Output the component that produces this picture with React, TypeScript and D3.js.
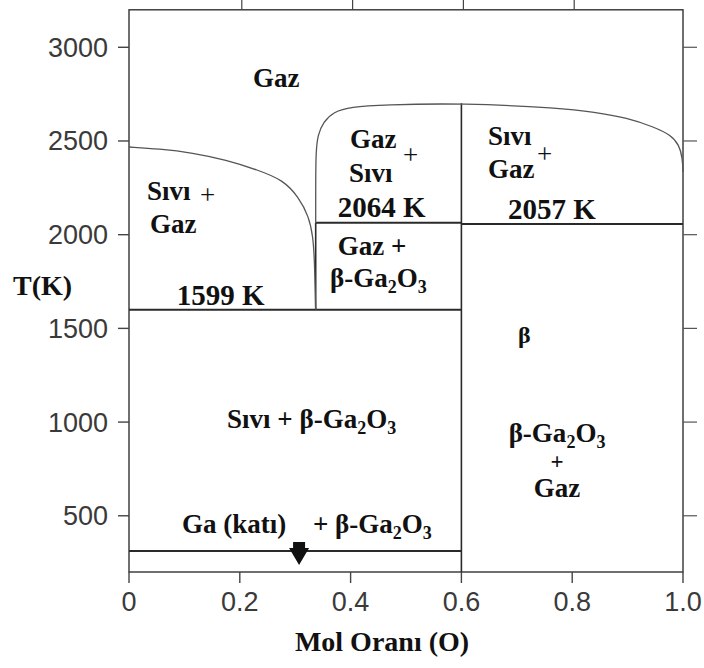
import React from "react";
import * as d3 from "d3";

// ---- data ----
const xTicks = [0, 0.2, 0.4, 0.6, 0.8, 1.0];
const xTickLabels = ["0", "0.2", "0.4", "0.6", "0.8", "1.0"];
const yTicks = [500, 1000, 1500, 2000, 2500, 3000];
const yTickLabels = ["500", "1000", "1500", "2000", "2500", "3000"];
const topTicks = [0.2, 0.4, 0.6, 0.8];

// liquidus/gas boundary on Ga-rich side [X, T]
const leftCurve: [number, number][] = [
  [0, 2468], [0.054, 2458], [0.115, 2437], [0.175, 2399], [0.233, 2345],
  [0.278, 2292], [0.306, 2202], [0.325, 2095], [0.332, 1989], [0.3345, 1882],
  [0.336, 1720], [0.337, 1599],
];
// dome boundary (gas / liquid+gas)
const domeCurve: [number, number][] = [
  [0.337, 2064], [0.337, 2300], [0.3375, 2440], [0.3406, 2532], [0.351, 2602],
  [0.369, 2655], [0.4, 2682], [0.46, 2693], [0.6, 2702], [0.78, 2676],
  [0.839, 2655], [0.9, 2623], [0.947, 2575], [0.978, 2532], [0.993, 2479],
  [0.999, 2410], [1.0, 2335],
];
// straight phase boundaries: [x1, T1, x2, T2]
const segments: [number, number, number, number][] = [
  [0, 1599, 0.6, 1599],
  [0.337, 2064, 0.6, 2064],
  [0.6, 2057, 1.0, 2057],
  [0, 312, 0.6, 312],
  [0.6, 200, 0.6, 2702],
  [0.337, 1599, 0.337, 2064],
];
const arrowPos: [number, number] = [0.307, 312];

// labels in data coordinates [X, T]
type Lab = { t: string; x: number; T: number; anchor?: string; kind?: string };
const labels: Lab[] = [
  { t: "Gaz", x: 0.224, T: 2788 },
  { t: "Sıvı", x: 0.0325, T: 2185 },
  { t: "+", x: 0.128, T: 2164, kind: "plus" },
  { t: "Gaz", x: 0.038, T: 2009 },
  { t: "1599 K", x: 0.086, T: 1625, kind: "temp" },
  { t: "Gaz", x: 0.399, T: 2462 },
  { t: "+", x: 0.4946, T: 2377, kind: "plus" },
  { t: "Sıvı", x: 0.397, T: 2281 },
  { t: "2064 K", x: 0.377, T: 2094, kind: "temp" },
  { t: "Sıvı", x: 0.648, T: 2478 },
  { t: "+", x: 0.7365, T: 2382, kind: "plus" },
  { t: "Gaz", x: 0.648, T: 2305 },
  { t: "2057 K", x: 0.684, T: 2083, kind: "temp" },
  { t: "Gaz +", x: 0.377, T: 1891 },
  { t: "β-Ga2O3", x: 0.363, T: 1721 },
  { t: "β", x: 0.702, T: 1422, kind: "beta" },
  { t: "Sıvı + β-Ga2O3", x: 0.177, T: 968 },
  { t: "β-Ga2O3", x: 0.7726, T: 895, anchor: "middle" },
  { t: "+", x: 0.7726, T: 750, anchor: "middle", kind: "smallplus" },
  { t: "Gaz", x: 0.7726, T: 600, anchor: "middle" },
  { t: "Ga (katı)", x: 0.0957, T: 408 },
  { t: "+ β-Ga2O3", x: 0.332, T: 408 },
];

const W = 704;
const H = 668;
const SANS = "'Liberation Sans', Arial, sans-serif";
const SERIF = "'Liberation Serif', 'Times New Roman', serif";

function rich(s: string, keyBase: string) {
  // render Ga2O3 with subscripts; the tspan after a subscript resets the baseline
  const tokens: { txt: string; sub: boolean }[] = [];
  s.split(/(Ga2O3)/).forEach((p) => {
    if (p === "Ga2O3") {
      tokens.push({ txt: "Ga", sub: false });
      tokens.push({ txt: "2", sub: true });
      tokens.push({ txt: "O", sub: false });
      tokens.push({ txt: "3", sub: true });
    } else if (p) tokens.push({ txt: p, sub: false });
  });
  let off = 0;
  return tokens.map((tk, i) => {
    const target = tk.sub ? 6 : 0;
    const dy = target - off;
    off = target;
    return (
      <tspan key={keyBase + i} dy={dy || undefined} fontSize={tk.sub ? 18 : undefined}>
        {tk.txt}
      </tspan>
    );
  });
}

const fontSizes: Record<string, number> = { temp: 29, beta: 24, plus: 27, smallplus: 23 };

export default function App() {
  const x = d3.scaleLinear().domain([0, 1]).range([129, 683]);
  const y = d3.scaleLinear().domain([200, 3200]).range([572, 9.8]);
  const line = d3
    .line<[number, number]>()
    .x((d) => x(d[0]))
    .y((d) => y(d[1]))
    .curve(d3.curveBasis);

  const x0 = x(0), x1 = x(1), yb = y(200), yt = y(3200);
  const [ax, aT] = arrowPos;
  const axp = x(ax), ayp = y(aT);

  return (
    <svg
      width={W}
      height={H}
      style={{ position: "absolute", left: 0, top: 0, background: "#fff" }}
    >
      <rect x={0} y={0} width={W} height={H} fill="#fff" />
      {/* frame */}
      <rect x={x0} y={yt} width={x1 - x0} height={yb - yt} fill="none" stroke="#333" strokeWidth={1.4} />
      {/* left / right ticks */}
      {yTicks.map((t, i) => (
        <g key={"yl" + i}>
          <line x1={x0 - 11} x2={x0} y1={y(t)} y2={y(t)} stroke="#444" strokeWidth={1.4} />
          <line x1={x1} x2={x1 + 14} y1={y(t)} y2={y(t)} stroke="#555" strokeWidth={1.2} />
          <text x={x0 - 21} y={y(t)} dy="0.35em" textAnchor="end" fontFamily={SANS} fontSize={27} fill="#3a3a3a">
            {yTickLabels[i]}
          </text>
        </g>
      ))}
      {/* bottom ticks */}
      {xTicks.map((t, i) => (
        <g key={"xb" + i}>
          <line x1={x(t)} x2={x(t)} y1={yb} y2={yb + 11} stroke="#444" strokeWidth={1.4} />
          <text x={x(t)} y={611} textAnchor="middle" fontFamily={SANS} fontSize={27} fill="#3a3a3a">
            {xTickLabels[i]}
          </text>
        </g>
      ))}
      {topTicks.map((t, i) => (
        <line key={"xt" + i} x1={x(t) + 2} x2={x(t) + 2} y1={yt} y2={0} stroke="#444" strokeWidth={1.2} />
      ))}
      {/* straight boundaries */}
      {segments.map((s, i) => (
        <line
          key={"s" + i}
          x1={x(s[0])}
          y1={y(s[1])}
          x2={x(s[2])}
          y2={y(s[3])}
          stroke="#2a2a2a"
          strokeWidth={s[0] === s[2] ? 1.6 : 2}
        />
      ))}
      {/* curves */}
      <path d={line(leftCurve) || ""} fill="none" stroke="#555" strokeWidth={1.3} />
      <path d={line(domeCurve) || ""} fill="none" stroke="#555" strokeWidth={1.3} />
      {/* arrow */}
      <path
        d={`M${axp - 6},${ayp - 9} L${axp + 6},${ayp - 9} L${axp + 6},${ayp - 3} L${axp + 10},${ayp - 3} L${axp},${ayp + 14} L${axp - 10},${ayp - 3} L${axp - 6},${ayp - 3} Z`}
        fill="#111"
      />
      {/* region labels */}
      {labels.map((l, i) => (
        <text
          key={"l" + i}
          x={x(l.x)}
          y={y(l.T)}
          textAnchor={l.anchor || "start"}
          fontFamily={SERIF}
          fontWeight={l.kind === "plus" ? "normal" : "bold"}
          fontSize={fontSizes[l.kind || ""] || 27}
          fill="#111"
        >
          {rich(l.t, "r" + i + "-")}
        </text>
      ))}
      {/* axis titles */}
      <text x={13} y={295} fontFamily={SERIF} fontWeight="bold" fontSize={28} fill="#111">
        T(K)
      </text>
      <text x={382} y={651} textAnchor="middle" fontFamily={SERIF} fontWeight="bold" fontSize={28} fill="#111">
        Mol Oranı (O)
      </text>
    </svg>
  );
}
